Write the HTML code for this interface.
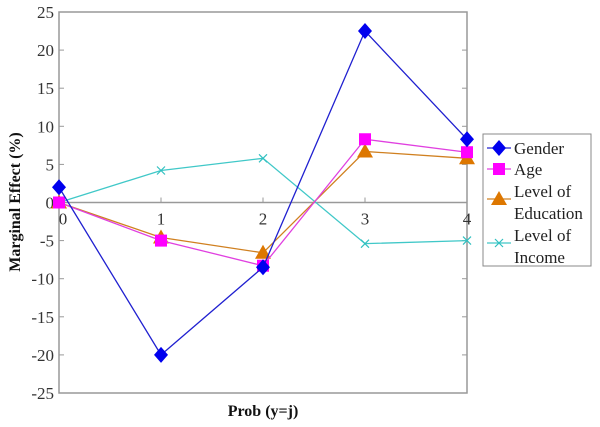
<!DOCTYPE html>
<html><head><meta charset="utf-8"><style>
body{margin:0;background:#fff;}
svg text{font-family:"Liberation Serif",serif;}
</style></head><body>
<svg id="chart" width="600" height="422" xmlns="http://www.w3.org/2000/svg">
<g id="axes"></g>
<g id="series"></g>
<g id="legend"></g>
</svg>
<script>
const categories=[0,1,2,3,4];
const gender=[2,-20,-8.5,22.5,8.3];
const age=[0,-5,-8.3,8.3,6.6];
const education=[0,-4.6,-6.6,6.7,5.8];
const income=[0,4.2,5.8,-5.4,-5.0];
const yTicks=[25,20,15,10,5,0,-5,-10,-15,-20,-25];
const xTickLabels=["0","1","2","3","4"];

const NS="http://www.w3.org/2000/svg";
const L=59,R=467,T=12,B=393;
const xs=v=>L+(v-0)/(4-0)*(R-L);
const ys=v=>T+(25-v)/50*(B-T);
function mk(tag,attrs,parent){const e=document.createElementNS(NS,tag);for(const k in attrs)e.setAttribute(k,attrs[k]);parent.appendChild(e);return e;}
const axes=document.getElementById('axes');
const frame=mk('rect',{x:L,y:T,width:R-L,height:B-T,fill:'none',stroke:'#999','stroke-width':1.5},axes);


const zl=mk('line',{x1:L,x2:R,y1:ys(0),y2:ys(0),stroke:'#999','stroke-width':1.5},axes);


yTicks.forEach(t=>{
  const y=ys(t);
  mk('line',{x1:L,x2:L+5,y1:y,y2:y,stroke:'#999'},axes);
  mk('line',{x1:R,x2:R-5,y1:y,y2:y,stroke:'#999'},axes);
  const tx=mk('text',{x:L-5,y:y+6,'text-anchor':'end','font-size':17,fill:'#333'},axes);
  tx.textContent=String(t);
  
  
});
categories.forEach((c,i)=>{
  const x=xs(c);
  mk('line',{x1:x,x2:x,y1:ys(0),y2:ys(0)-5,stroke:'#999'},axes);
  const tx=mk('text',{x:x+(i==0?4:0),y:ys(0)+22,'text-anchor':'middle','font-size':17,fill:'#333'},axes);
  tx.textContent=xTickLabels[i];
  
  
});
const xt=mk('text',{x:263,y:416,'text-anchor':'middle','font-size':16,'font-weight':'bold',fill:'#111'},axes);
xt.textContent='Prob (y=j)';


const yt=mk('text',{x:0,y:0,'text-anchor':'middle','font-size':16,'font-weight':'bold',fill:'#111',transform:'translate(20,202) rotate(-90)'},axes);
yt.textContent='Marginal Effect (%)';



function marker(type,x,y,color,g){
  if(type==='diamond')return mk('polygon',{points:`${x},${y-8} ${x+7},${y} ${x},${y+8} ${x-7},${y}`,fill:color},g);
  if(type==='square')return mk('rect',{x:x-6,y:y-6,width:12,height:12,fill:color},g);
  if(type==='triangle')return mk('polygon',{points:`${x},${y-8} ${x+8},${y+6} ${x-8},${y+6}`,fill:color},g);
  const p=mk('path',{d:`M${x-4},${y-4}L${x+4},${y+4}M${x-4},${y+4}L${x+4},${y-4}`,stroke:color,'stroke-width':1.2,fill:'none'},g);return p;
}
const seriesDefs=[
 {name:'gender',data:gender,color:'#2020d0',mc:'#0000ee',m:'diamond'},
 {name:'age',data:age,color:'#e040e0',mc:'#ff00ff',m:'square'},
 {name:'education',data:education,color:'#d08020',mc:'#dd7700',m:'triangle'},
 {name:'income',data:income,color:'#40c8c8',mc:'#30c0c0',m:'x'}];
const sg=document.getElementById('series');
seriesDefs.slice().reverse().forEach(s=>{
  const g=mk('g',{},sg);
  
  
  const pl=mk('polyline',{points:s.data.map((v,i)=>xs(categories[i])+','+ys(v)).join(' '),fill:'none',stroke:s.color,'stroke-width':1.3},g);
  
  
  s.data.forEach((v,i)=>{
    const m=marker(s.m,xs(categories[i]),ys(v),s.mc,g);
    
    
  });
});
const lg=document.getElementById('legend');
const box=mk('rect',{x:483,y:134,width:108,height:132,fill:'#fff',stroke:'#888'},lg);


const entries=[{s:0,lines:['Gender'],y:148},{s:1,lines:['Age'],y:169},{s:2,lines:['Level of','Education'],y:191},{s:3,lines:['Level of','Income'],y:235}];
entries.forEach(e=>{
  const s=seriesDefs[e.s];
  const g=mk('g',{},lg);
  
  
  const my=e.lines.length>1?e.y+8:e.y;
  mk('line',{x1:487,x2:511,y1:my,y2:my,stroke:s.color,'stroke-width':1.3},g);
  marker(s.m,499,my,s.mc,g);
  e.lines.forEach((t,k)=>{
    const tx=mk('text',{x:514,y:e.y+6+k*22,'font-size':17,fill:'#222'},g);
    tx.textContent=t;
  });
});
</script>
</body></html>
